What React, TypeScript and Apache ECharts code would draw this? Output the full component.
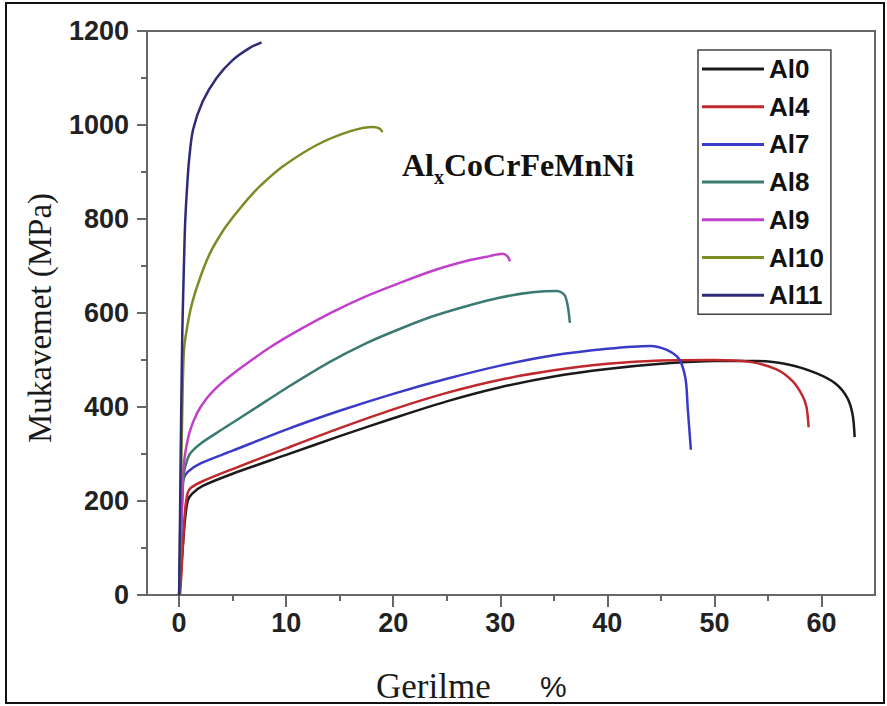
import React, { useEffect, useRef } from "react";
import * as echarts from "echarts";

const seriesNames = ["Al0", "Al4", "Al7", "Al8", "Al9", "Al10", "Al11"];
const seriesColors = ["#1a1a1a", "#c0282c", "#3a3ac8", "#3b7a72", "#c040cc", "#7d8c24", "#2e2c78"];

const al0 = [[0,0],[0.3,90],[0.55,160],[0.8,200],[1.2,215],[2.2,232],[5,258],[10,298],[15,338],[20,376],[25,412],[30,442],[35,465],[40,481],[45,492],[50,498],[54,498],[57,490],[59.5,472],[61.3,450],[62.4,420],[62.9,385],[63.1,336]];
const al4 = [[0,0],[0.1,5],[0.37,111],[0.56,181],[0.8,217],[1.1,228],[2.2,242],[5,268],[10,312],[15,355],[20,395],[25,430],[30,458],[35,478],[40,492],[45,499],[50,500],[53.3,496],[55.8,480],[57.3,455],[58.2,425],[58.6,400],[58.8,357]];
const al7 = [[0,0],[0.1,60],[0.2,150],[0.3,210],[0.4,245],[0.8,262],[2,280],[5,307],[10,352],[15,392],[20,428],[25,460],[30,488],[35,510],[40,524],[44,530],[45.5,522],[46.7,502],[47.3,460],[47.5,400],[47.8,309]];
const al8 = [[0,0],[0.2,150],[0.4,250],[0.56,272],[1,300],[2,322],[4,352],[7,396],[10,440],[14,495],[17.5,536],[20.6,566],[23.7,593],[26.9,615],[30,633],[33,644],[35.3,647],[36,638],[36.3,615],[36.5,579]];
const al9 = [[0,0],[0.2,150],[0.37,260],[0.56,300],[1,348],[1.7,388],[2.5,416],[3.5,441],[4.5,461],[6,487],[8.5,527],[11.3,565],[14.4,603],[17.5,636],[20.6,664],[23.7,690],[26.9,711],[29,721],[30.2,726],[30.7,720],[30.9,710]];
const al10 = [[0,0],[0.15,200],[0.3,400],[0.45,520],[0.75,570],[1.2,620],[1.96,675],[2.9,728],[4.1,775],[5,803],[5.7,823],[6.6,847],[7.6,871],[9.7,912],[12.9,958],[16,987],[18.1,996],[18.7,993],[19,985]];
const al11 = [[0,0],[0.1,200],[0.2,400],[0.3,560],[0.37,630],[0.47,720],[0.56,790],[0.75,870],[0.95,930],[1.3,990],[2.2,1050],[3.5,1100],[5,1138],[6.6,1164],[7.7,1176]];
const seriesData = [al0, al4, al7, al8, al9, al10, al11];

const xMajorTicks = [0, 10, 20, 30, 40, 50, 60];
const xMinorTicks = [5, 15, 25, 35, 45, 55];

export default function App() {
  const ref = useRef<HTMLDivElement>(null);
  useEffect(() => {
    if (!ref.current) return;
    const chart = echarts.init(ref.current, null, { renderer: "svg" });
    const axisColor = "#666";
    const labelFont = { fontFamily: "Liberation Sans", fontWeight: "bold" as const, fontSize: 27, color: "#222" };
    chart.setOption({
      animation: false,
      backgroundColor: "#fff",
      grid: { left: 147, right: 12, top: 31, bottom: 111, show: true, borderColor: axisColor, borderWidth: 2 },
      xAxis: [
        {
          type: "value", min: -3, max: 65,
          axisLine: { show: true, onZero: false, lineStyle: { color: axisColor, width: 2 } },
          axisTick: { show: true, inside: false, length: 12, customValues: xMajorTicks, lineStyle: { color: axisColor, width: 2 } },
          axisLabel: { customValues: xMajorTicks, margin: 14, formatter: (v: number) => String(v), ...labelFont },
          splitLine: { show: false },
        },
        {
          type: "value", min: -3, max: 65, position: "bottom", gridIndex: 0,
          axisLine: { show: false, onZero: false },
          axisTick: { show: true, inside: false, length: 6, customValues: xMinorTicks, lineStyle: { color: axisColor, width: 2 } },
          axisLabel: { show: false },
          splitLine: { show: false },
        },
      ],
      yAxis: {
        type: "value", min: 0, max: 1200, interval: 200,
        axisLine: { show: true, onZero: false, lineStyle: { color: axisColor, width: 2 } },
        axisTick: { show: true, inside: false, length: 10, lineStyle: { color: axisColor, width: 2 } },
        minorTick: { show: true, splitNumber: 2, length: 6, lineStyle: { color: axisColor, width: 2 } },
        axisLabel: { margin: 18, formatter: (v: number) => String(v), ...labelFont },
        splitLine: { show: false },
      },
      legend: {
        orient: "vertical", left: 698, top: 50,
        data: seriesNames,
        icon: "rect", itemWidth: 62, itemHeight: 3, itemGap: 11.7,
        textStyle: { fontFamily: "Liberation Sans", fontWeight: "bold", fontSize: 26, color: "#111" },
        borderColor: "#444", borderWidth: 1.5, padding: [6, 7, 6, 4],
        backgroundColor: "#fff",
      },
      graphic: [
        { type: "rect", shape: { x: 6, y: 3, width: 878, height: 700 }, style: { fill: "none", stroke: "#111", lineWidth: 2 }, silent: true },
        { type: "text", x: 402, y: 181, style: { text: "Al", font: 'bold 32px "Liberation Serif"', fill: "#111", align: "left", verticalAlign: "bottom" } },
        { type: "text", x: 434, y: 187, style: { text: "x", font: 'bold 20px "Liberation Serif"', fill: "#111", align: "left", verticalAlign: "bottom" } },
        { type: "text", x: 444, y: 181, style: { text: "CoCrFeMnNi", font: 'bold 32px "Liberation Serif"', fill: "#111", align: "left", verticalAlign: "bottom" } },
        { type: "text", x: 40, y: 318, rotation: Math.PI / 2, style: { text: "Mukavemet (MPa)", font: '33px "Liberation Serif"', fill: "#1a1a1a", align: "center", verticalAlign: "middle" } },
        { type: "text", x: 376, y: 686, style: { text: "Gerilme", font: '35px "Liberation Serif"', fill: "#1a1a1a", align: "left", verticalAlign: "middle" } },
        { type: "text", x: 540, y: 686, style: { text: "%", font: '30px "Liberation Sans"', fill: "#1a1a1a", align: "left", verticalAlign: "middle" } },
      ],
      series: seriesNames.map((name, i) => ({
        name, type: "line", data: seriesData[i], showSymbol: false, symbol: "none",
        smooth: 0.3,
        lineStyle: { color: seriesColors[i], width: 2.5 },
        itemStyle: { color: seriesColors[i] },
        xAxisIndex: 0, yAxisIndex: 0,
      })),
    });
    return () => chart.dispose();
  }, []);
  return <div ref={ref} style={{ position: "absolute", left: 0, top: 0, width: 887, height: 706 }} />;
}
